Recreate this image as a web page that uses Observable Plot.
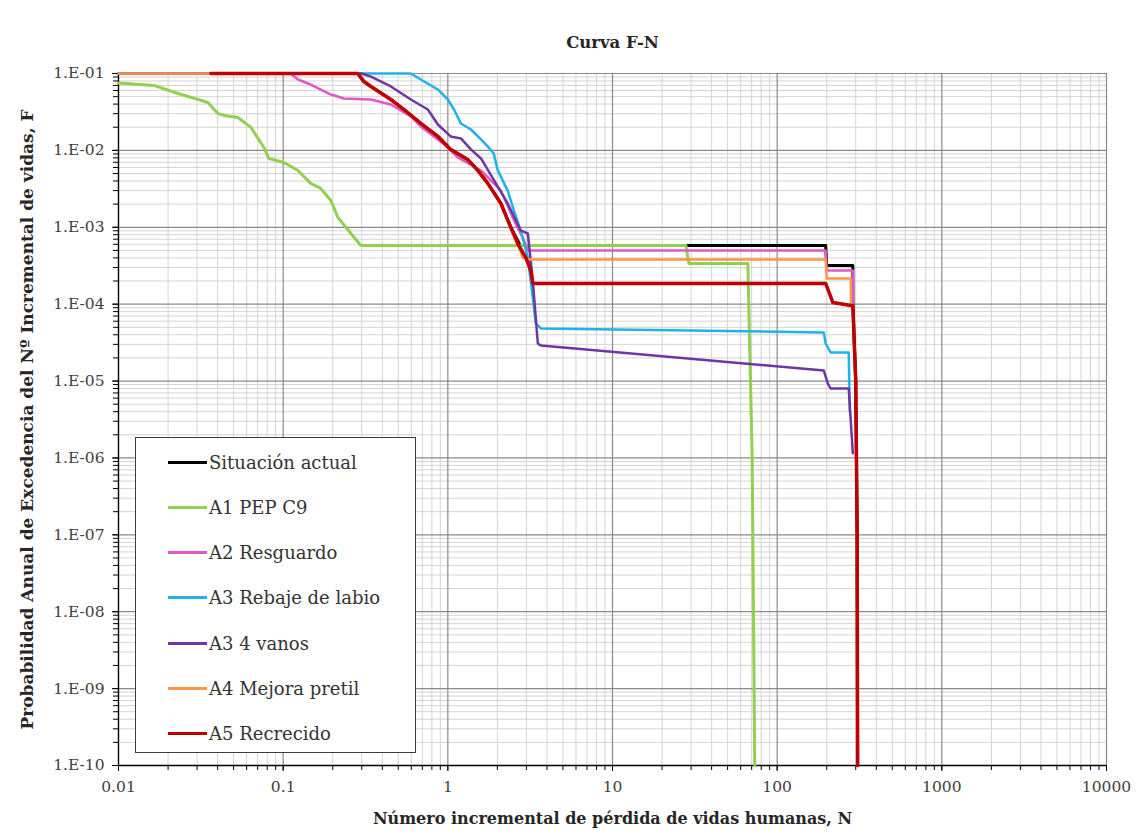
<!DOCTYPE html>
<html>
<head>
<meta charset="utf-8">
<script src="https://cdn.jsdelivr.net/npm/d3@7"></script>
<script src="https://cdn.jsdelivr.net/npm/@observablehq/plot@0.6"></script>
<style>
  body { margin: 0; background: #fff; }
  #wrap { position: relative; width: 1136px; height: 834px; background: #fff; }
  #legend {
    position: absolute; left: 135px; top: 437px; width: 279px; height: 314px;
    border: 1px solid #3c3c3c; background: #fff;
    font-family: "DejaVu Serif", serif;
    font-size: 18px; color: #333;
  }
  .item { position: absolute; left: 32px; height: 22px; display: flex; align-items: center; white-space: nowrap; }
  .sw { width: 39px; height: 3px; margin-right: 2px; }
</style>
</head>
<body>
<div id="wrap"><div id="chart"></div><div id="legend"></div></div>
<script>
// ---- Series names / colours ----
const seriesNames = ["Situación actual", "A1 PEP C9", "A2 Resguardo", "A3 Rebaje de labio", "A3 4 vanos", "A4 Mejora pretil", "A5 Recrecido"];
const seriesColors = ["#000000", "#92D050", "#E356C6", "#1FB2E8", "#6F35A5", "#F79646", "#C00000"];
const seriesWidths = [3, 3, 2.5, 2.5, 2.5, 2.5, 3.5];

// ---- Data: N (incremental loss of life) and F (annual exceedance probability) ----
const N_actual = [0.01, 0.284, 0.309, 0.341, 0.451, 0.541, 0.685, 0.87, 1.04, 1.32, 1.52, 1.75, 2.10, 2.41, 2.75, 197, 200, 288, 288.5, 300, 306, 308];
const F_actual = [0.1, 0.1, 0.0787, 0.0678, 0.0459, 0.034, 0.0224, 0.0152, 0.0103, 0.0076, 0.0055, 0.00372, 0.00204, 0.001, 0.00058, 0.00058, 0.000318, 0.000318, 0.0000962, 0.00001, 1e-7, 1e-10];

const N_A1 = [0.01, 0.0164, 0.023, 0.0303, 0.0349, 0.0401, 0.0437, 0.0531, 0.0637, 0.0764, 0.0819, 0.101, 0.123, 0.147, 0.169, 0.195, 0.215, 0.258, 0.296, 27.9, 29.1, 66.4, 67.2, 70.5, 73.1];
const F_A1 = [0.075, 0.070, 0.055, 0.046, 0.042, 0.0302, 0.0285, 0.0268, 0.0199, 0.0109, 0.00785, 0.00697, 0.00548, 0.00372, 0.0032, 0.00223, 0.00134, 0.00083, 0.00058, 0.00058, 0.000338, 0.000338, 0.0001, 1e-6, 1e-10];

const N_A2 = [0.01, 0.111, 0.123, 0.147, 0.195, 0.234, 0.341, 0.451, 0.596, 0.685, 0.87, 1.0, 1.15, 1.59, 2.10, 2.52, 2.85, 3.06, 197, 200, 288, 289];
const F_A2 = [0.1, 0.1, 0.0835, 0.0719, 0.0533, 0.0473, 0.0459, 0.0395, 0.0276, 0.0205, 0.0139, 0.0109, 0.0081, 0.00548, 0.0030, 0.00123, 0.00074, 0.0005, 0.0005, 0.000274, 0.000274, 0.0001];

const N_A3r = [0.01, 0.596, 0.685, 0.87, 1.0, 1.09, 1.2, 1.38, 1.59, 1.75, 1.90, 2.01, 2.31, 2.52, 2.77, 3.06, 3.28, 3.42, 3.67, 192, 197, 211, 272, 276];
const F_A3r = [0.1, 0.1, 0.0835, 0.062, 0.0459, 0.034, 0.0224, 0.0187, 0.0139, 0.0112, 0.0091, 0.0055, 0.0030, 0.00165, 0.00091, 0.000404, 0.000122, 0.0000561, 0.0000483, 0.0000429, 0.0000308, 0.0000236, 0.0000236, 0.000004];

const N_A3v = [0.01, 0.30, 0.341, 0.451, 0.596, 0.756, 0.87, 1.04, 1.20, 1.38, 1.59, 1.70, 2.31, 2.77, 3.06, 3.28, 3.52, 3.67, 192, 203, 211, 272, 288];
const F_A3v = [0.1, 0.1, 0.091, 0.0678, 0.0459, 0.034, 0.0217, 0.0152, 0.0143, 0.0103, 0.00785, 0.00618, 0.00204, 0.00091, 0.00083, 0.000203, 0.0000308, 0.000029, 0.0000137, 0.0000093, 0.000008, 0.000008, 0.00000115];

const N_A4 = [0.01, 0.284, 0.309, 0.341, 0.451, 0.541, 0.685, 0.87, 1.04, 1.32, 1.52, 1.75, 2.10, 2.41, 2.66, 2.85, 3.19, 197, 200, 280, 281];
const F_A4 = [0.1, 0.1, 0.0787, 0.0678, 0.0459, 0.034, 0.0224, 0.0152, 0.0103, 0.0076, 0.0055, 0.00372, 0.00204, 0.001, 0.00061, 0.0004, 0.000381, 0.000381, 0.000216, 0.000216, 0.0001];

const N_A5 = [0.0364, 0.284, 0.309, 0.341, 0.451, 0.541, 0.685, 0.87, 1.04, 1.32, 1.52, 1.75, 2.10, 2.41, 2.66, 2.98, 3.19, 3.28, 197, 218, 280, 288, 300, 306, 308];
const F_A5 = [0.1, 0.1, 0.0787, 0.0678, 0.0459, 0.034, 0.0224, 0.0152, 0.0103, 0.0076, 0.0055, 0.00372, 0.00204, 0.001, 0.00061, 0.0004, 0.000274, 0.000186, 0.000186, 0.000105, 0.0000962, 0.0000962, 0.00001, 1e-7, 1e-10];

// ---- Tick labels ----
const xTicks = [0.01, 0.1, 1, 10, 100, 1000, 10000];
const xTickLabels = ["0.01", "0.1", "1", "10", "100", "1000", "10000"];
const yTicks = [1e-1, 1e-2, 1e-3, 1e-4, 1e-5, 1e-6, 1e-7, 1e-8, 1e-9, 1e-10];
const yTickLabels = ["1.E-01", "1.E-02", "1.E-03", "1.E-04", "1.E-05", "1.E-06", "1.E-07", "1.E-08", "1.E-09", "1.E-10"];

const titleText = "Curva F-N";
const xLabel = "Número incremental de pérdida de vidas humanas, N";
const yLabel = "Probabilidad Anual de Excedencia del Nº Incremental de vidas, F";

// ---- Build tables ----
const seriesN = [N_actual, N_A1, N_A2, N_A3r, N_A3v, N_A4, N_A5];
const seriesF = [F_actual, F_A1, F_A2, F_A3r, F_A3v, F_A4, F_A5];
const tables = seriesNames.map((name, s) => seriesN[s].map((n, i) => ({series: name, N: n, F: seriesF[s][i]})));

// minor grid positions (2..9 within each decade)
const xMinor = [], yMinor = [];
for (const d of xTicks.slice(0, -1)) for (let k = 2; k <= 9; k++) xMinor.push(k * d);
for (const d of yTicks.slice(1)) for (let k = 2; k <= 9; k++) yMinor.push(k * d);
const xAll = xTicks.concat(xMinor);
const yAll = yTicks.concat(yMinor);
const xLab = new Map(xTicks.map((t, i) => [t, xTickLabels[i]]));
const yLab = new Map(yTicks.map((t, i) => [t, yTickLabels[i]]));

const serif = "'DejaVu Serif', serif";

const chart = Plot.plot({
  width: 1136,
  height: 834,
  marginLeft: 118,
  marginRight: 30,
  marginTop: 73,
  marginBottom: 69,
  style: {fontFamily: serif, background: "#fff"},
  x: {type: "log", domain: [0.01, 10000], axis: null},
  y: {type: "log", domain: [1e-10, 0.1], axis: null},
  marks: [
    Plot.gridX(xMinor, {stroke: "#d4d4d4", strokeOpacity: 1, strokeWidth: 1}),
    Plot.gridY(yMinor, {stroke: "#d4d4d4", strokeOpacity: 1, strokeWidth: 1}),
    Plot.gridX(xTicks, {stroke: "#8a8a8a", strokeOpacity: 1, strokeWidth: 1.2}),
    Plot.gridY(yTicks, {stroke: "#8a8a8a", strokeOpacity: 1, strokeWidth: 1.2}),
    Plot.axisX(xAll, {tickSize: 5, tickFormat: () => "", stroke: "#000", label: null}),
    Plot.axisY(yAll, {tickSize: 5, tickFormat: () => "", stroke: "#000", label: null}),
    Plot.axisX(xTicks, {tickSize: 6, tickPadding: 9, tickFormat: d => xLab.get(d), stroke: "#000", fill: "#404040", fontSize: 15.5, label: null}),
    Plot.axisY(yTicks, {tickSize: 6, tickPadding: 8, tickFormat: d => yLab.get(d), stroke: "#000", fill: "#404040", fontSize: 15.5, label: null}),
    Plot.ruleX([0.01], {stroke: "#000", strokeWidth: 1.3}),
    Plot.ruleY([1e-10], {stroke: "#000", strokeWidth: 1.3}),
    ...tables.map((t, s) => Plot.line(t, {x: "N", y: "F", stroke: seriesColors[s], strokeWidth: seriesWidths[s], strokeLinejoin: "round"})),
    Plot.text([titleText], {text: d => d, frameAnchor: "top", lineAnchor: "middle", dy: -31, fontWeight: "bold", fontSize: 16.5, fill: "#262626"}),
    Plot.text([xLabel], {text: d => d, frameAnchor: "bottom", lineAnchor: "middle", dy: 53, fontWeight: "bold", fontSize: 16, fill: "#262626"}),
    Plot.text([yLabel], {text: d => d, frameAnchor: "left", textAnchor: "middle", lineAnchor: "middle", dx: -91, rotate: -90, fontWeight: "bold", fontSize: 17, fill: "#262626"})
  ]
});
document.getElementById("chart").appendChild(chart);

// ---- Legend ----
const legend = document.getElementById("legend");
const legendTops = [13, 58, 103, 148, 194, 239, 284];
seriesNames.forEach((name, i) => {
  const item = document.createElement("div");
  item.className = "item";
  item.style.top = legendTops[i] + "px";
  const sw = document.createElement("span");
  sw.className = "sw";
  sw.style.background = seriesColors[i];
  const tx = document.createElement("span");
  tx.textContent = name;
  item.appendChild(sw);
  item.appendChild(tx);
  legend.appendChild(item);
});
</script>
</body>
</html>
